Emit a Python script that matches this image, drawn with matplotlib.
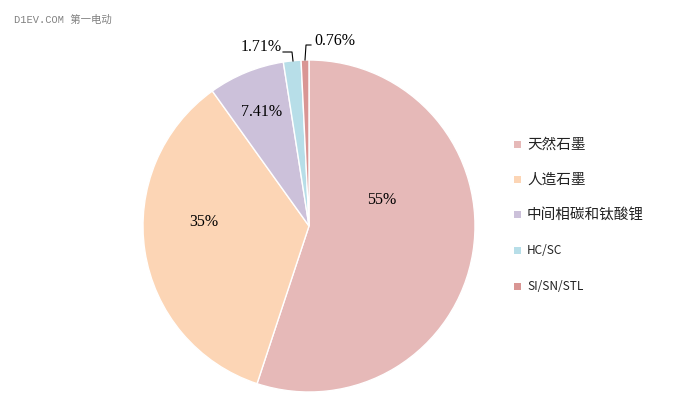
import matplotlib
matplotlib.use("Agg")
import matplotlib.pyplot as plt
from matplotlib.patches import Rectangle

# data
labels = ["天然石墨", "人造石墨", "中间相碳和钛酸锂", "HC/SC", "SI/SN/STL"]
values = [55, 35, 7.41, 1.71, 0.76]
value_text = ["55%", "35%", "7.41%", "1.71%", "0.76%"]
colors = ["#E6B9B8", "#FCD5B5", "#CCC1DA", "#B7DEE8", "#D99694"]

plt.rcParams["font.family"] = ["Noto Sans CJK SC", "DejaVu Sans"]

fig = plt.figure(figsize=(6.95, 4.10), dpi=100)
ax = fig.add_axes([0, 0, 1, 1])

cx, cy, r = 309, 183, 166
wedges, _ = ax.pie(values, colors=colors, startangle=90, counterclock=False,
                   center=(cx, cy), radius=r, frame=True,
                   wedgeprops=dict(edgecolor="white", linewidth=1))
ax.set_xlim(0, 695)
ax.set_ylim(0, 410)
ax.set_aspect("equal")
ax.axis("off")

# value labels
label_pos = [(382, 210), (204, 188), (262, 298), (261, 363), (335, 369)]
for (x, y), t in zip(label_pos, value_text):
    ax.text(x, y, t, ha="center", va="center", fontsize=11.5,
            family=["Liberation Serif", "DejaVu Serif"], color="black")

# leader lines for small slices
ax.plot([283, 292, 293], [357, 357, 348], color="black", lw=0.8)
ax.plot([305, 306, 311], [349, 364, 364], color="black", lw=0.8)

# legend
leg_y = [265, 230, 195, 159, 123]
for y, name, c in zip(leg_y, labels, colors):
    ax.add_patch(Rectangle((514, y - 3.5), 7, 7, color=c, lw=0))
    ax.text(527, y, name, ha="left", va="center",
            fontsize=10.5 if ord(name[0]) > 255 else 8.5, color="#222222")

# watermark
ax.text(14, 390, "D1EV.COM 第一电动", ha="left", va="center", fontsize=7.5,
        family=["Liberation Mono", "Noto Sans CJK SC"], color="#808080")

fig.savefig("out.png", dpi=100)
